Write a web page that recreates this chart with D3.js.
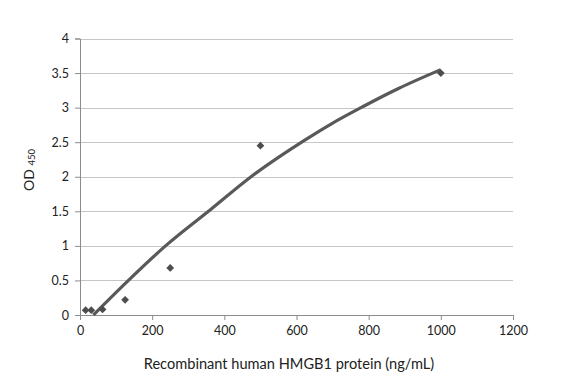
<!DOCTYPE html>
<html><head><meta charset="utf-8">
<script src="https://cdn.jsdelivr.net/npm/d3@7"></script>
<style>body{margin:0;background:#fff}svg text{font-family:Lato,"Open Sans",sans-serif;fill:#222}</style>
</head><body><svg id="c" width="582" height="382"></svg>
<script>
const concX = [15.6, 31.25, 62.5, 125, 250, 500, 1000];
const odY = [0.07, 0.07, 0.08, 0.22, 0.68, 2.45, 3.5];
const trendX = [37, 130, 237, 363, 474, 623, 698, 786, 884, 1000];
const trendY = [0, 0.48, 1.0, 1.53, 2.0, 2.53, 2.77, 3.02, 3.28, 3.55];
const xTicks = [0, 200, 400, 600, 800, 1000, 1200];
const yTicks = [0, 0.5, 1, 1.5, 2, 2.5, 3, 3.5, 4];

const svg = d3.select("#c");
const x = d3.scaleLinear().domain([0, 1200]).range([80, 513]);
const y = d3.scaleLinear().domain([0, 4]).range([315, 38.5]);

// gridlines
svg.append("g").selectAll("line").data(yTicks.slice(1)).join("line")
  .attr("x1", x(0)).attr("x2", x(1200)).attr("y1", d => Math.round(y(d)) + 0.5).attr("y2", d => Math.round(y(d)) + 0.5)
  .attr("stroke", "#c6c6c6").attr("stroke-width", 1);

// axes
const yAxis = d3.axisLeft(y).tickValues(yTicks).tickSize(5).tickPadding(6).tickFormat(d => d);
const gy = svg.append("g").attr("transform", `translate(${x(0)},0)`).call(yAxis);
const xAxis = d3.axisBottom(x).tickValues(xTicks).tickSize(5).tickPadding(6).tickFormat(d => d);
const gx = svg.append("g").attr("transform", `translate(0,${y(0)})`).call(xAxis);
[gx, gy].forEach(g => {
  g.select(".domain").attr("stroke", "#8c8c8c");
  g.selectAll(".tick line").attr("stroke", "#8c8c8c");
  g.selectAll("text").style("font-size", "12.5px").attr("fill", "#333");
});
gx.select(".domain").attr("d", `M${x(0)},0.5H${x(1200)}`);

// trendline
const line = d3.line().x(d => x(d[0])).y(d => y(d[1])).curve(d3.curveMonotoneX);
svg.append("path").datum(trendX.map((v, i) => [v, trendY[i]]))
  .attr("d", line).attr("fill", "none").attr("stroke", "#595959").attr("stroke-width", 3.2);

// markers (square rotated 45deg)
svg.append("g").selectAll("path").data(concX.map((v, i) => [v, odY[i]])).join("path")
  .attr("d", d3.symbol(d3.symbolSquare, 30))
  .attr("transform", d => `translate(${x(d[0])},${y(d[1])}) rotate(45)`)
  .attr("fill", "#4d4d4d");

// titles
svg.append("text").attr("x", 289).attr("y", 369).attr("text-anchor", "middle")
  .style("font-size", "14.6px").text("Recombinant human HMGB1 protein (ng/mL)");
const yt = svg.append("text").attr("transform", "translate(34,170) rotate(-90)").attr("text-anchor", "middle")
  .style("font-size", "14px");
yt.append("tspan").text("OD ");
yt.append("tspan").style("font-size", "9.5px").attr("dy", "1").text("450");
</script></body></html>
